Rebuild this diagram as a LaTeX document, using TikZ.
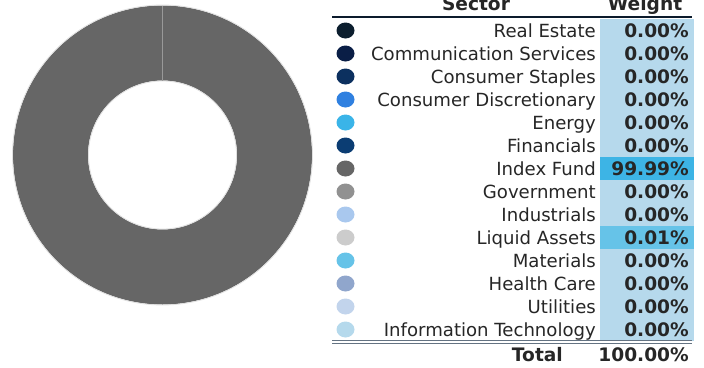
\documentclass[tikz,border=0pt]{standalone}
\usepackage{fontspec}
\setmainfont{DejaVu Sans}
\usepackage{xcolor}
\usetikzlibrary{shapes.geometric, positioning, calc}

\definecolor{donutgray}{RGB}{102,102,102}
\definecolor{headnavy}{RGB}{12,27,44}
\definecolor{rulegray}{RGB}{100,115,130}
\definecolor{bandblue}{RGB}{182,217,236}
\definecolor{bandhi}{RGB}{61,180,229}
\definecolor{bandmid}{RGB}{102,195,232}
\definecolor{cRealEstate}{RGB}{12,30,46}
\definecolor{cComm}{RGB}{10,30,70}
\definecolor{cStaples}{RGB}{12,48,95}
\definecolor{cDiscr}{RGB}{47,128,224}
\definecolor{cEnergy}{RGB}{58,180,232}
\definecolor{cFin}{RGB}{11,61,115}
\definecolor{cIndex}{RGB}{102,102,102}
\definecolor{cGov}{RGB}{145,145,145}
\definecolor{cIndus}{RGB}{169,200,238}
\definecolor{cLiquid}{RGB}{204,204,204}
\definecolor{cMat}{RGB}{102,195,232}
\definecolor{cHealth}{RGB}{144,166,204}
\definecolor{cUtil}{RGB}{194,212,236}
\definecolor{cTech}{RGB}{181,217,236}

\tikzset{
  dotmark/.style={ellipse, minimum width=18pt, minimum height=16pt, inner sep=0pt},
  sectorlbl/.style={anchor=base east, inner sep=0pt, font=\fontsize{18.1}{20}\selectfont, text=black!85},
  weightlbl/.style={anchor=base east, inner sep=0pt, font=\fontsize{18.6}{20}\selectfont\bfseries, text=black!85},
  headlbl/.style={anchor=base, inner sep=0pt, font=\fontsize{18.6}{20}\selectfont\bfseries, text=black!85}
}

\begin{document}
\begin{tikzpicture}[x=1pt,y=-1pt]
      \useasboundingbox (0,0) rectangle (704,367);

      % Donut
      \fill[donutgray,even odd rule] (162.5,155) circle (149.5) (162.5,155) circle (74.5);
      \draw[black!12,line width=0.8pt] (162.5,155) circle (150);
      \draw[black!12,line width=0.8pt] (162.5,155) circle (74);
      \draw[black!40,line width=0.5pt] (162.5,5.5) -- (162.5,80.5);

      % Header
      \node[headlbl] (hsector) at (476,10) {Sector};
      \node[headlbl] (hweight) at (645,10) {Weight};
      \draw[headnavy,line width=2pt] (332,17) -- (692,17);

      % Rows
      \foreach \i/\name/\dotcol/\val/\bandcol in {
          1/Real Estate/cRealEstate/0.00/bandblue,
          2/Communication Services/cComm/0.00/bandblue,
          3/Consumer Staples/cStaples/0.00/bandblue,
          4/Consumer Discretionary/cDiscr/0.00/bandblue,
          5/Energy/cEnergy/0.00/bandblue,
          6/Financials/cFin/0.00/bandblue,
          7/Index Fund/cIndex/99.99/bandhi,
          8/Government/cGov/0.00/bandblue,
          9/Industrials/cIndus/0.00/bandblue,
          10/Liquid Assets/cLiquid/0.01/bandmid,
          11/Materials/cMat/0.00/bandblue,
          12/Health Care/cHealth/0.00/bandblue,
          13/Utilities/cUtil/0.00/bandblue,
          14/Information Technology/cTech/0.00/bandblue}
      {
        \pgfmathsetmacro{\yc}{30.5+23*(\i-1)}
        \fill[\bandcol] (600,\yc-11.5) rectangle (694,\yc+11.5);
        \node[dotmark,fill=\dotcol] (dot\i) at (345.5,\yc) {};
        \node[sectorlbl] (sec\i) at (596,\yc+6.5) {\name};
        \node[weightlbl] (wt\i) at (689,\yc+6.5) {\val\%};
      }

      % Total
      \draw[rulegray,line width=0.9pt] (332,340.5) -- (692,340.5);
      \draw[rulegray,line width=0.9pt] (332,343.2) -- (692,343.2);
      \node[weightlbl] (total) at (563,361) {Total};
      \node[weightlbl] (totalwt) at (689,361) {100.00\%};
\end{tikzpicture}
\end{document}
